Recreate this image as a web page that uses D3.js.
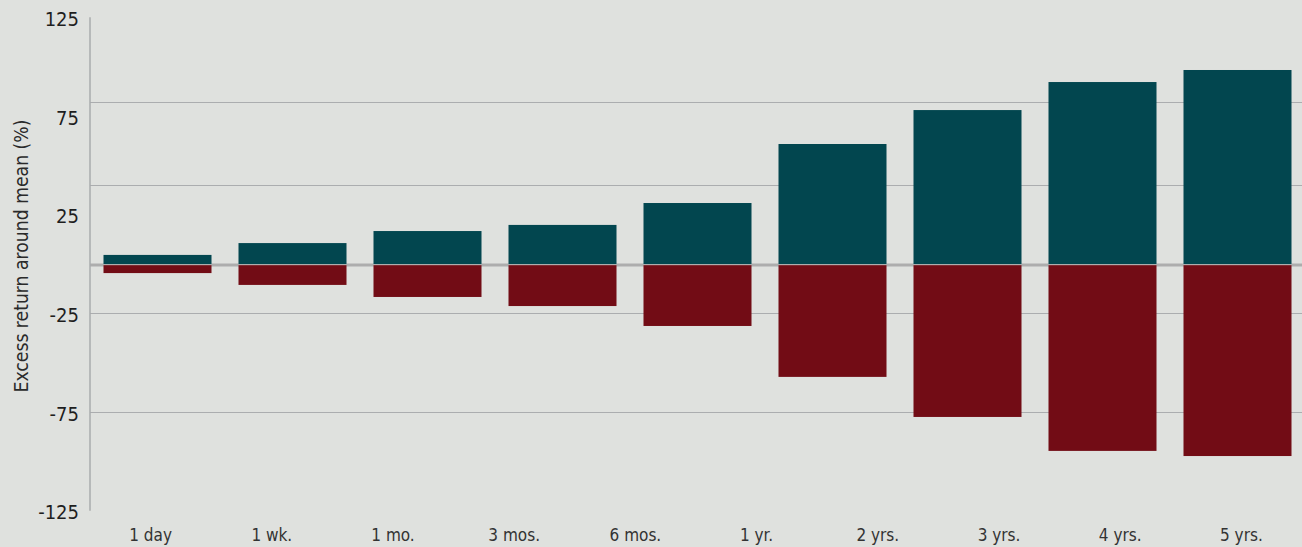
<!DOCTYPE html>
<html>
<head>
<meta charset="utf-8">
<script src="https://cdn.jsdelivr.net/npm/d3@7"></script>
<style>
  html, body { margin: 0; padding: 0; background: #dfe1de; }
  svg { display: block; font-family: "Liberation Sans Narrow", "DejaVu Sans Condensed", sans-serif; }
</style>
</head>
<body>
<svg id="chart" width="1302" height="547"></svg>
<script>
// horizon labels along the bottom
var categories = ["1 day", "1 wk.", "1 mo.", "3 mos.", "6 mos.", "1 yr.", "2 yrs.", "3 yrs.", "4 yrs.", "5 yrs."];

// excess return above / below the mean (%), one pair per bar as drawn
var upside   = [4.6, 10.6, 16.7, 19.8, 30.9, 60.8, 78.0, 92.2, 98.3];
var downside = [-4.6, -10.6, -16.7, -21.3, -31.4, -57.2, -77.5, -94.7, -97.3];

// axis ticks and the grid lines as they sit in the picture
var yTicks = [125, 75, 25, -25, -75, -125];
var gridValues = [82, 40, -25, -75];

(function () {
  var plotLeft = 90, plotRight = 1302, plotTop = 17.3, plotBottom = 510.7;

  var svg = d3.select("#chart");

  var y = d3.scaleLinear().domain([-125, 125]).range([plotBottom, plotTop]);

  // bars run on their own slots, labels on theirs
  var xBar = d3.scaleBand()
    .domain(d3.range(upside.length))
    .range([plotLeft, 1305])
    .paddingInner(0.2)
    .paddingOuter(0.1);

  var xLabel = d3.scaleBand()
    .domain(categories)
    .range([plotLeft, plotRight]);

  //
  // grid lines
  //
  svg.append("g").selectAll("line")
    .data(gridValues)
    .enter().append("line")
      .attr("x1", plotLeft)
      .attr("x2", plotRight)
      .attr("y1", function (d) { return Math.round(y(d)) + 0.5; })
      .attr("y2", function (d) { return Math.round(y(d)) + 0.5; })
      .style("stroke", "#abadaf")
      .style("stroke-width", 1.2);

  // zero line, sits behind the bars
  svg.append("line")
    .attr("x1", plotLeft)
    .attr("x2", plotRight)
    .attr("y1", y(0) + 1)
    .attr("y2", y(0) + 1)
    .style("stroke", "#adadad")
    .style("stroke-width", 3);

  //
  // bars
  //
  svg.append("g").selectAll("rect")
    .data(upside)
    .enter().append("rect")
      .attr("x", function (d, i) { return xBar(i); })
      .attr("width", xBar.bandwidth())
      .attr("y", function (d) { return y(d); })
      .attr("height", function (d) { return y(0) - y(d); })
      .style("fill", "#02464f");

  svg.append("g").selectAll("rect")
    .data(downside)
    .enter().append("rect")
      .attr("x", function (d, i) { return xBar(i); })
      .attr("width", xBar.bandwidth())
      .attr("y", y(0) + 1.2)
      .attr("height", function (d) { return y(d) - y(0) - 1.2; })
      .style("fill", "#720c15");

  //
  // y axis
  //
  svg.append("line")
    .attr("x1", plotLeft)
    .attr("x2", plotLeft)
    .attr("y1", plotTop)
    .attr("y2", plotBottom)
    .style("stroke", "#a9abad")
    .style("stroke-width", 1.5);

  svg.append("g").selectAll("text")
    .data(yTicks)
    .enter().append("text")
      .attr("x", 79)
      .attr("y", function (d) { return y(d) + 1.5; })
      .attr("dy", "0.36em")
      .attr("text-anchor", "end")
      .style("font-size", "20px")
      .style("fill", "#1e1e1e")
      .text(function (d) { return d; });

  svg.append("text")
    .attr("transform", "translate(28,256) rotate(-90)")
    .attr("text-anchor", "middle")
    .style("font-size", "19.2px")
    .style("fill", "#2a2a2a")
    .text("Excess return around mean (%)");

  //
  // x labels
  //
  svg.append("g").selectAll("text")
    .data(categories)
    .enter().append("text")
      .attr("x", function (d) { return xLabel(d) + xLabel.bandwidth() / 2; })
      .attr("y", 541)
      .attr("text-anchor", "middle")
      .style("font-size", "17px")
      .style("fill", "#333")
      .text(function (d) { return d; });
})();
</script>
</body>
</html>
